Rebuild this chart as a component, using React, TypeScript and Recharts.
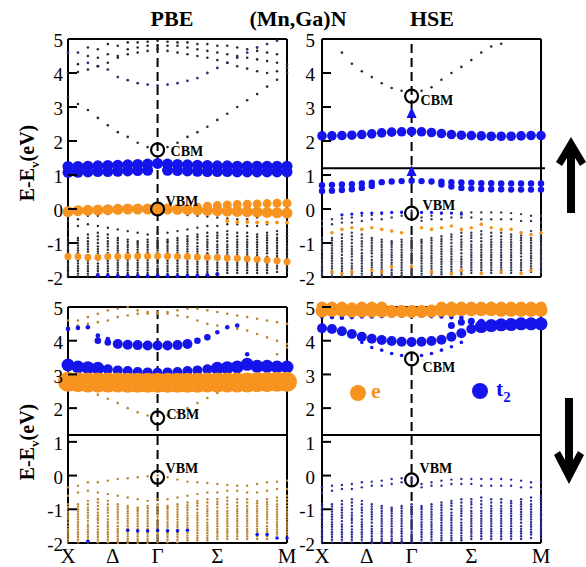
import React from 'react';
import { ScatterChart, Scatter, XAxis, YAxis, ReferenceLine } from 'recharts';

const SERIF = "'Liberation Serif', 'Times New Roman', serif";
const ORANGE = '#F7931E';
const BLUE = '#1414EB';

// ---- axes / categories ----
const kPoints = [0, 1, 2, 3, 4, 5, 6, 7, 8, 9, 10, 11, 12, 13, 14, 15, 16, 17, 18, 19, 20, 21, 22];
const kTickPos = [0, 4.5, 9, 15, 22];
const kTickLabels = ['X', 'Δ', 'Γ', 'Σ', 'M'];
const energyTicks = [-2, -1, 0, 1, 2, 3, 4, 5];
const gammaK = 9;
const breakEnergy = 1.2;

// band edges per panel: [PBE up, HSE up, PBE down, HSE down]
const cbmEnergies = [1.74, 3.32, 1.71, 3.46];
const vbmEnergies = [0.0, -0.12, -0.05, -0.13];
const upHseTriangles = [2.82, 1.12];

// ---- valence-band clouds ----
const vbPbeTop1 = [-0.35, -0.3, -0.2, -0.2, -0.15, -0.1, -0.08, -0.05, -0.02, 0.0, -0.05, -0.12, -0.18, -0.2, -0.22, -0.25, -0.28, -0.3, -0.3, -0.25, -0.2, -0.18, -0.15];
const vbPbeTop2 = [-0.6, -0.5, -0.45, -0.5, -0.55, -0.6, -0.65, -0.7, -0.75, -0.7, -0.7, -0.65, -0.6, -0.55, -0.5, -0.5, -0.45, -0.45, -0.5, -0.5, -0.45, -0.4, -0.4];
const vbHseTop1 = [-0.35, -0.3, -0.28, -0.25, -0.2, -0.18, -0.15, -0.1, -0.08, -0.05, -0.25, -0.2, -0.15, -0.12, -0.1, -0.1, -0.1, -0.1, -0.1, -0.12, -0.15, -0.2, -0.2];
const vbHseTop2 = [-0.5, -0.45, -0.4, -0.4, -0.35, -0.3, -0.3, -0.25, -0.2, -0.15, -0.35, -0.3, -0.3, -0.25, -0.25, -0.25, -0.3, -0.3, -0.3, -0.3, -0.35, -0.35, -0.4];
const vbDeep1 = [-0.85, -0.85, -0.75, -0.7, -0.75, -0.85, -0.9, -0.95, -0.9, -0.85, -0.9, -0.85, -0.8, -0.75, -0.7, -0.7, -0.65, -0.7, -0.7, -0.75, -0.7, -0.65, -0.6];
const vbMid1 = [-0.93, -0.92, -0.85, -0.8, -0.85, -0.92, -0.97, -1.0, -0.97, -0.92, -0.95, -0.92, -0.88, -0.82, -0.8, -0.78, -0.75, -0.8, -0.8, -0.82, -0.78, -0.75, -0.7];
const vbDeep2 = [-1.0, -1.0, -0.95, -0.9, -0.95, -1.0, -1.05, -1.05, -1.05, -1.0, -1.0, -1.0, -0.95, -0.9, -0.9, -0.85, -0.85, -0.9, -0.9, -0.9, -0.85, -0.85, -0.8];
const vbMid2 = [-1.08, -1.07, -1.02, -1.0, -1.02, -1.08, -1.12, -1.12, -1.12, -1.08, -1.08, -1.08, -1.02, -1.0, -0.98, -0.95, -0.95, -0.98, -0.98, -0.98, -0.92, -0.92, -0.9];
const vbDeep3 = [-1.15, -1.15, -1.1, -1.1, -1.1, -1.15, -1.2, -1.2, -1.2, -1.15, -1.15, -1.15, -1.1, -1.1, -1.05, -1.05, -1.05, -1.05, -1.05, -1.05, -1.0, -1.0, -1.0];
const vbMid3 = [-1.22, -1.22, -1.18, -1.18, -1.2, -1.22, -1.28, -1.28, -1.28, -1.22, -1.22, -1.22, -1.18, -1.18, -1.12, -1.12, -1.12, -1.12, -1.12, -1.12, -1.08, -1.08, -1.08];
const vbDeep4 = [-1.3, -1.3, -1.25, -1.25, -1.3, -1.3, -1.35, -1.35, -1.35, -1.3, -1.3, -1.3, -1.25, -1.25, -1.2, -1.2, -1.2, -1.2, -1.2, -1.2, -1.15, -1.15, -1.15];
const vbMid4 = [-1.4, -1.38, -1.35, -1.32, -1.38, -1.4, -1.42, -1.42, -1.42, -1.38, -1.38, -1.38, -1.32, -1.32, -1.3, -1.28, -1.28, -1.28, -1.28, -1.28, -1.22, -1.22, -1.22];
const vbDeep5 = [-1.5, -1.45, -1.45, -1.4, -1.45, -1.5, -1.5, -1.5, -1.5, -1.45, -1.45, -1.45, -1.4, -1.4, -1.4, -1.35, -1.35, -1.35, -1.35, -1.35, -1.3, -1.3, -1.3];
const vbMid5 = [-1.58, -1.52, -1.52, -1.5, -1.52, -1.58, -1.58, -1.58, -1.58, -1.52, -1.52, -1.52, -1.48, -1.48, -1.48, -1.42, -1.42, -1.42, -1.42, -1.42, -1.4, -1.38, -1.38];
const vbDeep6 = [-1.65, -1.6, -1.6, -1.6, -1.6, -1.65, -1.65, -1.65, -1.65, -1.6, -1.6, -1.6, -1.55, -1.55, -1.55, -1.5, -1.5, -1.5, -1.5, -1.5, -1.5, -1.45, -1.45];
const vbMid6 = [-1.72, -1.68, -1.68, -1.68, -1.68, -1.72, -1.72, -1.72, -1.72, -1.68, -1.68, -1.68, -1.62, -1.62, -1.62, -1.58, -1.58, -1.58, -1.58, -1.58, -1.58, -1.52, -1.52];
const vbDeep7 = [-1.8, -1.75, -1.75, -1.75, -1.75, -1.8, -1.8, -1.8, -1.8, -1.75, -1.75, -1.75, -1.7, -1.7, -1.7, -1.65, -1.65, -1.65, -1.65, -1.65, -1.65, -1.6, -1.6];
const vbMid7 = [-1.88, -1.82, -1.82, -1.82, -1.82, -1.88, -1.88, -1.88, -1.88, -1.82, -1.82, -1.82, -1.78, -1.78, -1.78, -1.72, -1.72, -1.72, -1.72, -1.72, -1.72, -1.68, -1.68];
const vbDeep8 = [-1.95, -1.9, -1.9, -1.9, -1.9, -1.95, -1.95, -1.95, -1.95, -1.9, -1.9, -1.9, -1.85, -1.85, -1.85, -1.8, -1.8, -1.8, -1.8, -1.8, -1.8, -1.75, -1.75];
const vbMid8 = [-2.0, -1.98, -1.98, -1.98, -1.98, -2.0, -2.0, -2.0, -2.0, -1.98, -1.98, -1.98, -1.92, -1.92, -1.92, -1.88, -1.88, -1.88, -1.88, -1.88, -1.88, -1.85, -1.85];

// ---- PBE spin up ----
const upPbeT2Hi = [1.25, 1.25, 1.26, 1.27, 1.28, 1.29, 1.3, 1.31, 1.32, 1.34, 1.32, 1.31, 1.3, 1.29, 1.28, 1.27, 1.27, 1.26, 1.26, 1.26, 1.26, 1.26, 1.26];
const upPbeT2Lo = [1.08, 1.08, 1.09, 1.1, 1.1, 1.11, 1.12, 1.13, 1.14, null, 1.14, 1.13, 1.12, 1.11, 1.1, 1.1, 1.1, 1.09, 1.09, 1.09, 1.09, 1.09, 1.09];
const upPbeE = [-0.08, -0.05, -0.04, -0.03, -0.02, -0.01, 0, 0, 0, 0, 0, -0.01, -0.02, -0.03, -0.04, -0.05, -0.06, -0.07, -0.08, -0.09, -0.1, -0.11, -0.12];
const upPbeEUpper = [null, null, null, null, null, null, null, null, null, null, null, null, null, 0.05, 0.08, 0.1, 0.12, 0.13, 0.14, 0.15, 0.16, 0.17, 0.17];
const upPbeEShallow = [null, null, null, null, null, null, null, null, null, null, null, null, null, null, null, null, -0.35, -0.38, -0.38, -0.4, -0.4, -0.4, -0.4];
const upPbeEDeep = [-1.4, -1.4, -1.42, -1.42, -1.4, -1.4, -1.4, -1.39, -1.39, -1.38, -1.39, -1.4, -1.4, -1.41, -1.42, -1.43, -1.44, -1.45, -1.46, -1.48, -1.5, -1.52, -1.55];
const upPbeT2Deep = [null, null, null, -1.95, -1.96, -1.97, -1.97, -1.97, -1.97, -1.96, -1.97, -1.97, -1.97, -1.96, -1.95, -1.92, null, null, null, null, null, null, null];
const upPbeCb1 = [3.3, 3.09, 2.91, 2.68, 2.46, 2.26, 2.12, 1.95, 1.82, null, 1.82, 1.95, 2.12, 2.26, 2.42, 2.62, 2.8, 3.0, 3.2, 3.38, 3.6, 3.8, 4.0];
const upPbeCb2 = [4.6, 4.6, 4.3, 4.2, 4.1, 3.88, 3.79, 3.7, 3.66, 3.63, 3.66, 3.7, 3.77, 3.85, 4.0, 4.15, 4.3, 4.45, 4.6, 4.75, 4.85, 4.95, null];
const upPbeCb3 = [4.0, 4.03, 4.1, 4.2, 4.3, 4.45, 4.55, 4.6, 4.65, 4.7, 4.65, 4.6, 4.55, 4.5, 4.45, 4.38, 4.3, 4.2, 4.13, 4.05, 4.0, 4.05, 4.15];
const upPbeCb4 = [null, 4.26, 4.5, 4.45, 4.55, 4.5, 4.7, 4.75, 4.8, 4.8, 4.8, 4.8, 4.75, 4.7, 4.65, 4.6, 4.55, 4.5, 4.45, 4.4, 4.35, 4.3, 4.25];
const upPbeCb5 = [null, null, 4.75, 4.7, 4.85, 4.8, 4.9, 4.9, 4.92, 4.95, 4.92, 4.9, 4.9, 4.85, 4.85, 4.8, 4.8, 4.75, 4.7, 4.65, 4.6, 4.55, null];

// ---- HSE spin up ----
const upHseT2 = [2.15, 2.15, 2.16, 2.17, 2.19, 2.21, 2.24, 2.26, 2.27, 2.28, 2.27, 2.25, 2.22, 2.19, 2.17, 2.16, 2.15, 2.14, 2.14, 2.14, 2.15, 2.16, 2.16];
const upHseT2Hi = [0.7, 0.71, 0.72, 0.73, 0.75, 0.77, 0.79, 0.81, 0.82, 0.83, 0.82, 0.81, 0.8, 0.79, 0.78, 0.77, 0.76, 0.76, 0.75, 0.75, 0.75, 0.75, 0.75];
const upHseT2Lo = [0.53, 0.54, 0.56, 0.58, 0.62, 0.68, null, null, null, null, null, null, 0.72, 0.66, 0.62, 0.6, 0.59, 0.58, 0.58, 0.57, 0.57, 0.57, 0.57];
const upHseT2Small = [null, null, -0.17, -0.15, -0.12, -0.12, -0.11, -0.1, -0.1, null, -0.1, -0.1, -0.11, -0.12, -0.15, null, null, null, null, null, null, null, null];
const upHseCb = [null, null, 4.6, 4.27, 4.05, 3.88, 3.7, 3.56, 3.48, null, 3.48, 3.58, 3.8, 4.0, 4.18, 4.38, 4.6, 4.78, 4.86, null, null, null, null];
const upHseVbOrange1 = [null, -0.7, -0.6, -0.55, -0.6, -0.55, -0.6, -0.65, -0.7, null, -0.55, -0.6, -0.55, -0.5, -0.6, -0.55, -0.45, -0.55, -0.6, -0.6, -0.7, -0.75, -0.7];
const upHseVbOrange2 = [null, -1.85, -1.9, -1.85, null, -1.8, -1.85, -1.7, null, -1.7, null, -1.85, null, -1.9, -1.8, null, -1.9, null, -1.85, null, -1.9, -1.8, null];

// ---- PBE spin down ----
const dnPbeE = [2.78, 2.77, 2.76, 2.76, 2.76, 2.76, 2.75, 2.75, 2.75, 2.75, 2.75, 2.75, 2.75, 2.75, 2.76, 2.76, 2.76, 2.76, 2.76, 2.77, 2.77, 2.78, 2.78];
const dnPbeT2Edge = [3.28, 3.22, 3.2, 3.18, null, null, null, null, null, null, null, null, null, null, null, 3.18, 3.2, 3.22, 3.3, 3.24, 3.24, 3.22, 3.22];
const dnPbeT2Band = [null, null, null, null, 3.15, 3.12, 3.1, 3.07, 3.06, 3.05, 3.06, 3.07, 3.1, 3.12, 3.15, null, null, null, null, null, null, null, null];
const dnPbeT2Gamma = [null, null, null, null, null, 3.9, 3.88, 3.87, 3.86, 3.86, 3.86, 3.87, 3.9, null, null, null, null, null, null, null, null, null, null];
const dnPbeT2GammaSide = [null, null, null, 4.0, 3.95, null, null, null, null, null, null, null, null, 4.0, 4.1, null, null, null, null, null, null, null, null];
const dnPbeT2Side = [4.35, 4.38, 4.4, 4.15, 4.05, null, null, null, null, null, null, null, null, null, null, 4.25, 4.4, 4.45, 3.6, null, null, null, null];
const dnPbeT2Deep = [null, null, -1.95, null, null, null, -1.62, -1.64, -1.64, -1.63, -1.64, -1.64, -1.62, null, null, null, null, null, null, -1.75, -1.75, -1.85, -1.85];
const dnPbeCb = [3.0, 2.8, 2.6, 2.4, 2.28, 2.15, 2.0, 1.88, 1.78, null, 1.78, 1.88, 2.0, 2.15, 2.3, 2.45, 2.6, 2.8, 3.0, 3.2, 3.4, 3.6, 3.8];
const dnPbeUp1 = [4.35, 4.45, 4.5, 4.55, 4.6, 4.7, 4.75, 4.8, 4.8, 4.8, 4.8, 4.75, 4.7, 4.6, 4.5, 4.45, 4.4, 4.35, 4.3, 4.2, 4.1, 4.0, 3.9];
const dnPbeUp2 = [4.6, 4.6, 4.7, 4.8, 4.9, 4.95, 5.0, 4.9, 4.85, 4.85, 4.85, 4.9, 4.95, 4.95, 4.9, 4.85, 4.8, 4.75, 4.7, 4.65, 4.6, 4.55, 4.5];

// ---- HSE spin down ----
const dnHseE = [4.88, 4.9, 4.9, 4.88, 4.88, 4.88, 4.88, 4.87, 4.87, 4.87, 4.87, 4.88, 4.9, 4.9, 4.92, 4.92, 4.92, 4.92, 4.9, 4.9, 4.9, 4.9, 4.9];
const dnHseETop = [5.0, 5.0, 5.0, 4.98, 5.0, 5.0, 5.0, null, null, null, null, null, 5.0, 5.0, 5.0, 5.0, 5.0, 5.0, 5.0, 5.0, 5.0, 5.0, 5.0];
const dnHseT2Main = [4.37, 4.35, 4.28, 4.2, 4.12, 4.06, 4.02, 3.99, 3.97, 3.96, 3.97, 3.99, 4.03, 4.12, 4.22, 4.35, null, null, null, null, null, null, null];
const dnHseT2Right = [null, null, null, null, null, null, null, null, null, null, null, null, null, null, null, null, 4.42, 4.45, 4.47, 4.48, 4.5, 4.5, 4.5];
const dnHseT2Sigma = [null, null, null, null, null, null, null, null, null, null, null, null, null, 4.45, 4.55, 4.58, 4.55, null, null, null, null, null, null];
const dnHseT2Upper = [4.72, 4.7, 4.68, 4.7, 4.72, 4.72, 4.73, 4.74, 4.74, 4.74, 4.74, 4.73, 4.72, 4.7, 4.68, null, null, null, null, null, null, null, null];
const dnHseT2Low = [null, null, null, null, 3.95, 3.8, 3.72, 3.62, 3.56, null, 3.56, 3.62, 3.72, 3.82, 3.95, null, null, null, null, null, null, null, null];

type Layer = { values: (number | null)[]; color: string; r: number };

const toPoints = (values: (number | null)[]) => {
  const pts: { x: number; y: number }[] = [];
  values.forEach((v, i) => {
    if (v !== null && v !== undefined) pts.push({ x: kPoints[i], y: v });
  });
  return pts;
};

const dotShape = (color: string, r: number) => (p: any) =>
  p.cx == null ? <g /> : <circle cx={p.cx} cy={p.cy} r={r} fill={color} />;

const triShape = (p: any) =>
  p.cx == null ? <g /> : (
    <path d={`M${p.cx},${p.cy - 6} L${p.cx + 5},${p.cy + 5} L${p.cx - 5},${p.cy + 5} Z`} fill={BLUE} />
  );

const edgeShape = (label: string, dx: number, dy: number) => (p: any) =>
  p.cx == null ? <g /> : (
    <g>
      <circle cx={p.cx} cy={p.cy} r={6.5} fill="none" stroke="#000" strokeWidth={2.2} />
      <text x={p.cx + dx} y={p.cy + dy} fontFamily={SERIF} fontWeight="bold" fontSize={14} fill="#000">
        {label}
      </text>
    </g>
  );

const makeLeftTick = (pad: number) => (p: any) => (
  <g>
    <line x1={p.x} x2={p.x + 9} y1={p.y} y2={p.y} stroke="#000" strokeWidth={2} />
    <text x={p.x - pad} y={p.y + 1.5} dy="0.35em" textAnchor="end" fontSize={19} fontFamily={SERIF} fill="#000">
      {p.payload.value}
    </text>
  </g>
);

const RightTick = (p: any) => (
  <line x1={p.x - 9} x2={p.x} y1={p.y} y2={p.y} stroke="#000" strokeWidth={2} />
);

const XTick = (p: any) => (
  <text x={p.x} y={p.y + 20} textAnchor="middle" fontSize={21} fontFamily={SERIF} fill="#000">
    {kTickLabels[kTickPos.indexOf(p.payload.value)]}
  </text>
);

type PanelProps = {
  box: { left: number; top: number; width: number; height: number };
  margin: { top: number; right: number; bottom: number; left: number };
  layers: Layer[];
  panelIndex: number;
  cbmOffset: [number, number];
  vbmOffset: [number, number];
  breakMode: 'none' | 'normal' | 'extended';
  showX: boolean;
  triangles?: number[];
  labelPad: number;
};

function Panel(props: PanelProps) {
  const { box, margin, layers, panelIndex, cbmOffset, vbmOffset, breakMode, showX, triangles, labelPad } = props;
  const axisLine = { stroke: '#000', strokeWidth: 2 };
  return (
    <div style={{ position: 'absolute', left: box.left, top: box.top }}>
      <ScatterChart width={box.width} height={box.height} margin={margin}>
        <XAxis
          type="number"
          dataKey="x"
          domain={[0, 22]}
          ticks={kTickPos}
          interval={0}
          height={1}
          tickSize={0}
          tickMargin={0}
          tickLine={false}
          axisLine={axisLine}
          tick={showX ? XTick : false}
        />
        <XAxis
          xAxisId="top"
          orientation="top"
          type="number"
          domain={[0, 22]}
          height={1}
          tick={false}
          tickLine={false}
          axisLine={axisLine}
        />
        <YAxis
          type="number"
          dataKey="y"
          domain={[-2, 5]}
          ticks={energyTicks}
          interval={0}
          width={1}
          tickSize={0}
          tickMargin={0}
          tickLine={false}
          axisLine={axisLine}
          tick={makeLeftTick(labelPad)}
        />
        <YAxis
          yAxisId="right"
          orientation="right"
          type="number"
          domain={[-2, 5]}
          ticks={energyTicks}
          interval={0}
          width={1}
          tickSize={0}
          tickMargin={0}
          tickLine={false}
          axisLine={axisLine}
          tick={RightTick}
        />
        {breakMode === 'normal' && <ReferenceLine y={breakEnergy} stroke="#000" strokeWidth={2} />}
        {breakMode === 'extended' && (
          <ReferenceLine
            segment={[{ x: 0, y: breakEnergy }, { x: 22.4, y: breakEnergy }]}
            ifOverflow="visible"
            stroke="#000"
            strokeWidth={2}
          />
        )}
        {layers.map((l, i) => (
          <Scatter key={i} data={toPoints(l.values)} isAnimationActive={false} shape={dotShape(l.color, l.r)} />
        ))}
        <ReferenceLine x={gammaK} stroke="#000" strokeWidth={2} strokeDasharray="9 5" />
        {triangles && (
          <Scatter
            data={triangles.map((y) => ({ x: gammaK, y }))}
            isAnimationActive={false}
            shape={triShape}
          />
        )}
        <Scatter
          data={[{ x: gammaK, y: cbmEnergies[panelIndex] }]}
          isAnimationActive={false}
          shape={edgeShape('CBM', cbmOffset[0], cbmOffset[1])}
        />
        <Scatter
          data={[{ x: gammaK, y: vbmEnergies[panelIndex] }]}
          isAnimationActive={false}
          shape={edgeShape('VBM', vbmOffset[0], vbmOffset[1])}
        />
      </ScatterChart>
    </div>
  );
}

const deepBands = [vbDeep1, vbMid1, vbDeep2, vbMid2, vbDeep3, vbMid3, vbDeep4, vbMid4, vbDeep5, vbMid5, vbDeep6, vbMid6, vbDeep7, vbMid7, vbDeep8, vbMid8];
const cloud = (tops: (number | null)[][], color: string): Layer[] =>
  [...tops, ...deepBands].map((values) => ({ values, color, r: 1.2 }));

const DARK_TL = '#2a2a33';
const DARK_TR = '#3a3a58';
const BROWN = '#b98530';
const NAVY = '#2e2e9c';

const layersTL: Layer[] = [
  ...cloud([vbPbeTop1, vbPbeTop2], DARK_TL),
  { values: upPbeCb1, color: DARK_TL, r: 1.3 },
  { values: upPbeCb2, color: '#30307a', r: 1.4 },
  { values: upPbeCb3, color: DARK_TL, r: 1.3 },
  { values: upPbeCb4, color: DARK_TL, r: 1.3 },
  { values: upPbeCb5, color: DARK_TL, r: 1.3 },
  { values: upPbeT2Deep, color: BLUE, r: 2 },
  { values: upPbeEShallow, color: ORANGE, r: 2 },
  { values: upPbeEDeep, color: ORANGE, r: 3.5 },
  { values: upPbeEUpper, color: ORANGE, r: 4.5 },
  { values: upPbeE, color: ORANGE, r: 5.5 },
  { values: upPbeT2Lo, color: BLUE, r: 5.5 },
  { values: upPbeT2Hi, color: BLUE, r: 5.5 },
];

const layersTR: Layer[] = [
  ...cloud([vbHseTop1, vbHseTop2], DARK_TR),
  { values: upHseVbOrange1, color: ORANGE, r: 1.8 },
  { values: upHseVbOrange2, color: ORANGE, r: 1.8 },
  { values: upHseCb, color: DARK_TL, r: 1.3 },
  { values: upHseT2Small, color: BLUE, r: 1.6 },
  { values: upHseT2Lo, color: BLUE, r: 3.2 },
  { values: upHseT2Hi, color: BLUE, r: 3.2 },
  { values: upHseT2, color: BLUE, r: 4.8 },
];

const layersBL: Layer[] = [
  ...cloud([vbPbeTop1, vbPbeTop2], BROWN),
  { values: dnPbeT2Deep, color: BLUE, r: 1.8 },
  { values: dnPbeCb, color: BROWN, r: 1.3 },
  { values: dnPbeUp1, color: BROWN, r: 1.3 },
  { values: dnPbeUp2, color: BROWN, r: 1.3 },
  { values: dnPbeT2Side, color: BLUE, r: 2.3 },
  { values: dnPbeT2GammaSide, color: BLUE, r: 3.3 },
  { values: dnPbeT2Gamma, color: BLUE, r: 5 },
  { values: dnPbeT2Edge, color: BLUE, r: 6.5 },
  { values: dnPbeT2Band, color: BLUE, r: 5 },
  { values: dnPbeE, color: ORANGE, r: 10 },
];

const layersBR: Layer[] = [
  ...cloud([vbHseTop1, vbHseTop2], NAVY),
  { values: dnHseT2Low, color: BLUE, r: 1.8 },
  { values: dnHseT2Upper, color: BLUE, r: 2.3 },
  { values: dnHseT2Sigma, color: BLUE, r: 3.5 },
  { values: dnHseT2Main, color: BLUE, r: 5 },
  { values: dnHseT2Right, color: BLUE, r: 6.5 },
  { values: dnHseETop, color: ORANGE, r: 5.5 },
  { values: dnHseE, color: ORANGE, r: 6.5 },
];

export default function App() {
  return (
    <div style={{ position: 'absolute', left: 0, top: 0, width: 586, height: 567, background: '#fff', overflow: 'hidden' }}>
      <Panel
        box={{ left: 0, top: 0, width: 300, height: 290 }}
        margin={{ top: 38, right: 12, bottom: 12, left: 67 }}
        layers={layersTL}
        panelIndex={0}
        cbmOffset={[13, 6]}
        vbmOffset={[8, -3]}
        breakMode="none"
        showX={false}
        labelPad={5}
      />
      <Panel
        box={{ left: 290, top: 0, width: 296, height: 290 }}
        margin={{ top: 38, right: 44, bottom: 12, left: 31 }}
        layers={layersTR}
        panelIndex={1}
        cbmOffset={[9, 9]}
        vbmOffset={[11, -3]}
        breakMode="extended"
        showX={false}
        triangles={upHseTriangles}
        labelPad={7}
      />
      <Panel
        box={{ left: 0, top: 290, width: 300, height: 277 }}
        margin={{ top: 16, right: 12, bottom: 23, left: 67 }}
        layers={layersBL}
        panelIndex={2}
        cbmOffset={[9, 1]}
        vbmOffset={[8, -4]}
        breakMode="normal"
        showX={true}
        labelPad={5}
      />
      <Panel
        box={{ left: 290, top: 290, width: 296, height: 277 }}
        margin={{ top: 16, right: 44, bottom: 23, left: 31 }}
        layers={layersBR}
        panelIndex={3}
        cbmOffset={[11, 13]}
        vbmOffset={[8, -7]}
        breakMode="normal"
        showX={true}
        labelPad={7}
      />
      <svg width={586} height={567} style={{ position: 'absolute', left: 0, top: 0, pointerEvents: 'none' }}>
        <text x={172} y={26} textAnchor="middle" fontFamily={SERIF} fontWeight="bold" fontSize={22}>PBE</text>
        <text x={298} y={26} textAnchor="middle" fontFamily={SERIF} fontWeight="bold" fontSize={22}>(Mn,Ga)N</text>
        <text x={432} y={26} textAnchor="middle" fontFamily={SERIF} fontWeight="bold" fontSize={22}>HSE</text>
        <text transform="translate(34,163) rotate(-90)" textAnchor="middle" fontFamily={SERIF} fontWeight="bold" fontSize={20}>
          E-E<tspan dy={5} fontSize={13}>v</tspan><tspan dy={-5}>(eV)</tspan>
        </text>
        <text transform="translate(34,442) rotate(-90)" textAnchor="middle" fontFamily={SERIF} fontWeight="bold" fontSize={20}>
          E-E<tspan dy={5} fontSize={13}>v</tspan><tspan dy={-5}>(eV)</tspan>
        </text>
        <path d="M571,137 L586,162 L580,166 L575,158 L575,213 L567,213 L567,158 L562,166 L556,162 Z" fill="#000" />
        <path d="M569,484 L584,455 L578,451 L573,460 L573,398 L565,398 L565,460 L560,451 L554,455 Z" fill="#000" />
        <circle cx={358} cy={393} r={8} fill={ORANGE} />
        <text x={371} y={398} fontFamily={SERIF} fontWeight="bold" fontSize={22} fill={ORANGE}>e</text>
        <circle cx={480} cy={391} r={8} fill={BLUE} />
        <text x={496} y={396} fontFamily={SERIF} fontWeight="bold" fontSize={22} fill={BLUE}>
          t<tspan dy={6} fontSize={15}>2</tspan>
        </text>
      </svg>
    </div>
  );
}
